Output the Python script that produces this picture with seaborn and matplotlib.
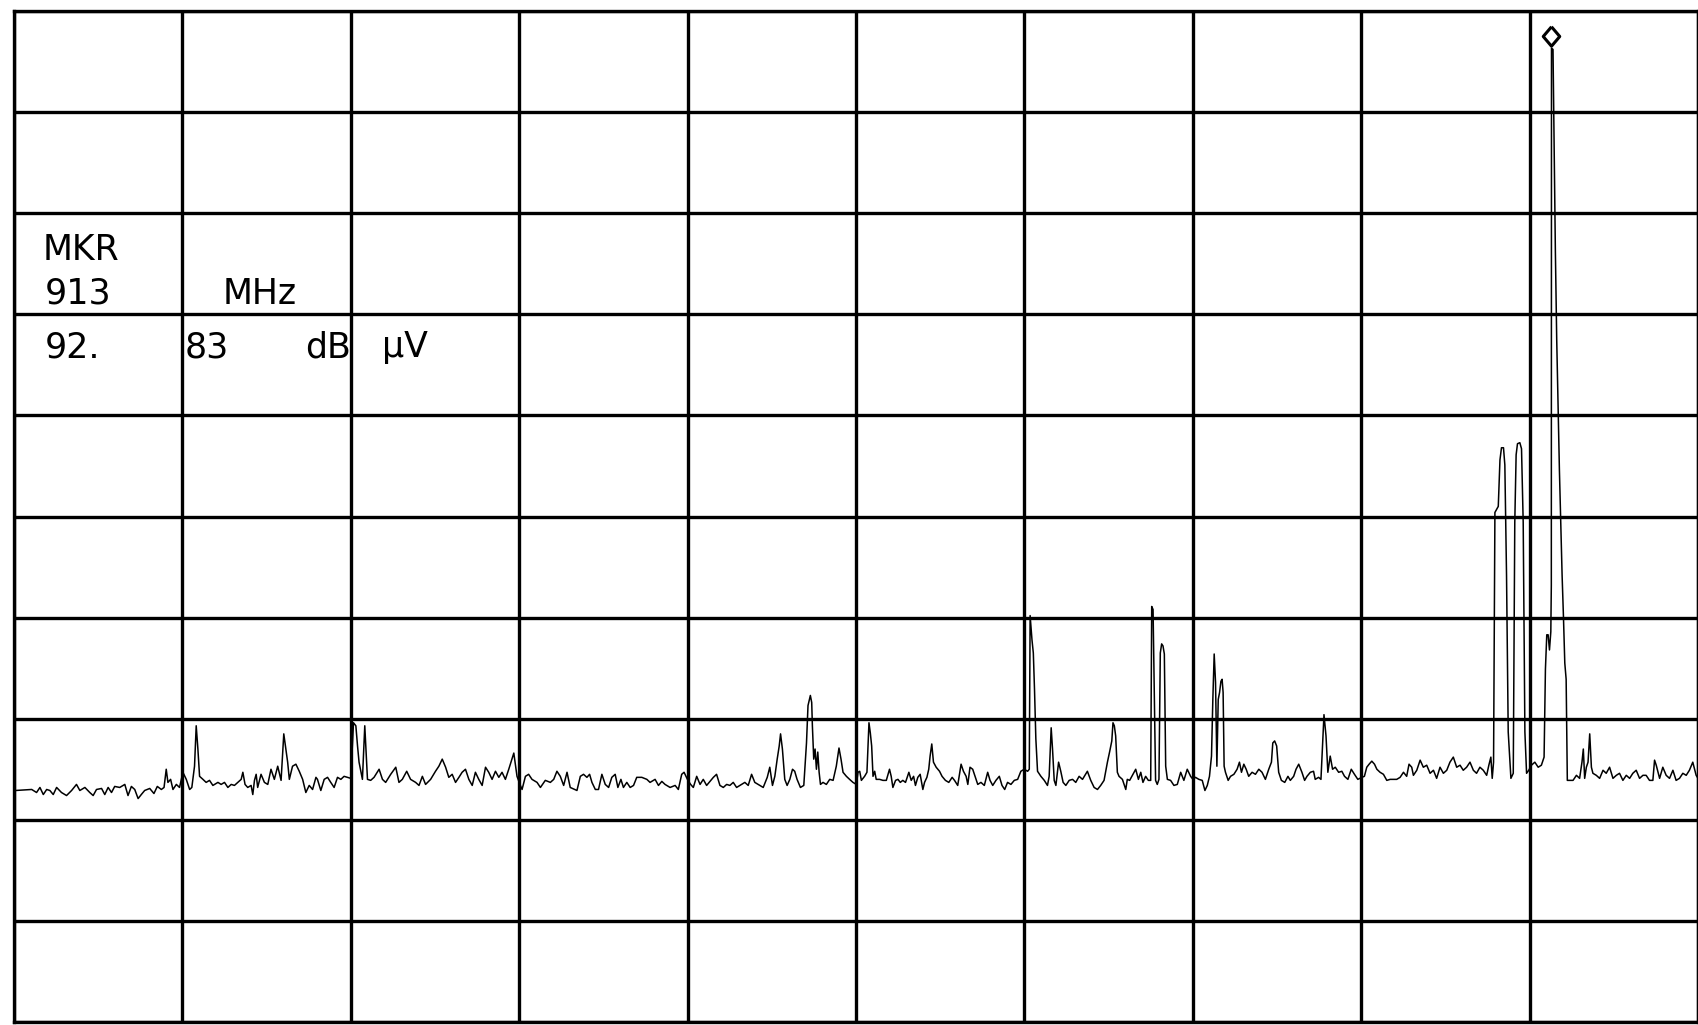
import numpy as np
import pandas as pd
import matplotlib
matplotlib.use("Agg")
import matplotlib.pyplot as plt
import matplotlib.transforms as mtransforms
import seaborn as sns

# ---------------- data (read from the plotter output) ----------------
# frequency sweep 0 .. 1000 MHz, level in dBuV, reference level 96.5 dBuV, 10 dB/div
freq_mhz = [
    1, 10.5, 13.4, 15.4, 17.4, 19.4, 21.3, 23.3, 25.3, 28.2, 31.2, 34.2, 37.1, 39.1, 42.1, 45.0, 47.0, 49.0,
    52.0, 53.9, 55.9, 57.9, 59.8, 62.8, 65.8, 67.7, 69.7, 71.7, 73.7, 75.6, 77.6, 80.6, 83.1, 85.1, 87.5, 89.1,
    90.4, 91.4, 93.0, 94.4, 96.4, 98.3, 100.3, 102.3, 104.3, 105.6, 106.2, 107.2, 108.2, 109.2, 110.2, 112.2,
    114.1, 116.1, 118.1, 121.1, 123.0, 125.0, 127.0, 129.0, 130.9, 132.9, 134.9, 135.9, 137.2, 138.8, 140.8,
    141.8, 142.8, 143.8, 144.7, 146.7, 148.7, 150.7, 152.6, 154.6, 156.6, 158.6, 160.2,
    162.5, 163.5, 165.4, 167.4, 169.4, 171.4, 173.3, 175.3, 177.3, 179.3, 180.2, 182.2, 184.2, 186.2, 188.1,
    190.1, 192.1, 194.1, 196.0, 198.0, 200.0, 201.6, 203.0, 204.0, 204.9, 206.9, 208.3, 209.9, 211.8, 213.8,
    216.8, 218.8, 220.7, 223.7, 226.7, 228.6, 230.6, 233.2, 235.5, 238.5, 240.5, 242.5, 244.4, 247.4, 250.3,
    252.3, 254.3, 256.3, 258.2, 260.2, 262.2, 264.2, 266.1, 268.1, 270.1, 272.1, 274.0, 276.0, 278.0, 280.0,
    281.9, 283.9, 285.9, 287.9, 289.8, 291.8, 293.8, 296.8, 298.7, 300.7, 301.7, 303.7, 305.6, 307.6, 310.6,
    312.6, 315.5, 318.5, 320.5, 322.4, 324.4, 326.4, 328.4, 330.3,
    334.3, 336.3, 338.2, 340.2, 341.8, 343.2, 345.2, 347.1, 349.1, 351.1, 353.1, 355.0, 357.0, 358.6, 360.4,
    361.9, 363.9, 365.9, 367.9, 369.8, 372.8, 375.8, 377.7, 380.7, 382.7, 384.7, 386.6, 389.6, 392.6, 394.5,
    396.5, 397.9, 399.9, 401.8, 403.4, 405.4, 407.4, 409.3, 411.3, 413.3, 415.3, 417.2, 419.2, 421.2, 423.2,
    425.1, 427.1, 429.1, 432.0, 434.0, 436.0, 438.0, 439.9, 442.9, 444.9, 447.3, 448.8, 450.4, 451.8, 453.2,
    454.4, 455.2, 456.3, 457.7, 459.1, 460.7, 462.3, 463.6, 465.0, 467.0, 469.0, 470.6, 471.5, 472.9, 473.7,
    474.1, 474.9, 475.7, 476.5, 477.3, 478.1, 478.9, 480.4, 482.4, 484.4, 486.4, 488.3, 489.9, 491.1, 492.3,
    494.3, 496.2,
    498.2, 500.2, 501.2, 502.2, 503.2, 505.1, 506.5, 507.7, 508.5, 509.3, 510.1, 511.1, 512.0, 514.0, 516.0,
    518.0, 519.9, 520.9, 521.9, 523.5, 524.9, 526.3, 527.8, 529.4, 531.4, 532.8, 534.2, 535.3, 536.7, 538.1,
    539.7, 540.7, 542.1, 543.2, 544.0, 545.0, 546.0, 547.6, 549.6, 551.1, 553.1, 555.1, 557.1, 558.5, 560.4,
    562.4, 563.8, 565.4, 566.4, 567.7, 569.3, 570.9, 572.3, 574.2, 576.2, 578.2, 579.6, 581.2, 583.1, 585.1,
    586.7, 588.3, 590.0, 592.0, 594.0, 596.0, 597.9, 599.9, 601.9, 602.9, 603.4, 604.5, 605.3, 606.0, 606.8,
    607.8, 609.8, 611.8, 613.7, 614.7, 615.9, 616.7, 617.7, 618.7, 620.3, 621.6, 623.0, 624.6, 626.6, 628.6,
    630.5, 632.5, 634.5, 637.4, 639.4, 641.4, 643.4, 645.3, 647.3, 649.3, 650.7, 651.9, 652.6, 653.4, 654.2,
    655.2, 656.2, 658.2, 660.2, 661.1, 662.5,
    666.1, 667.7, 669.1, 670.4, 672.0, 673.6, 675.0, 675.6, 676.4, 677.2, 677.9, 678.9, 679.9, 680.7, 681.5,
    682.3, 683.1, 683.9, 684.9, 686.8, 688.8, 690.8, 692.8, 694.7, 696.7, 698.7, 700.1, 701.6, 703.6, 705.6,
    707.2, 708.6, 709.9, 711.1, 711.9, 712.7, 713.5, 714.3, 715.1, 715.9, 716.7, 717.4, 718.0, 718.6, 719.4,
    721.0, 722.4, 724.4, 726.3, 727.7, 728.9, 730.3, 731.7, 733.2, 735.2, 737.2, 739.2, 741.1, 743.1, 745.1,
    746.7, 747.5, 748.6, 749.8, 751.0, 752.6, 754.6, 756.5, 757.9, 759.9, 761.3, 762.9, 764.8, 766.4, 767.8,
    769.8, 771.7, 772.7, 774.7, 776.1, 777.1, 777.9, 779.1, 780.2, 781.6, 783.0, 784.6, 786.6, 788.5, 790.1,
    792.1, 794.1, 796.0, 798.0, 800.4, 801.9, 803.3, 804.7, 806.3, 807.9, 809.3, 811.2, 813.2, 815.2, 817.2,
    819.1, 821.1, 823.1, 825.1, 827.0, 828.4, 830.0,
    831.0, 833.0, 835.0, 836.9, 838.9, 840.9, 842.9, 844.8, 846.8, 848.8, 850.8, 852.7, 854.7, 856.7, 858.7,
    860.6, 862.6, 864.6, 866.6, 868.5, 870.5, 872.5, 874.5, 875.8, 877.0, 877.8, 878.6, 879.4, 880.4, 881.4,
    882.4, 883.3, 884.5, 885.3, 886.3, 887.3, 888.9, 890.3, 891.2, 892.0, 892.8, 894.2, 895.2, 896.2, 897.2,
    898.2, 899.5, 901.1, 903.1, 905.1, 907.0, 908.6, 909.4, 910.2, 911.0, 911.8, 912.6, 912.9, 913.0, 913.9,
    915.3, 916.1, 916.9, 917.7, 918.5, 919.3, 920.1, 920.9, 921.7, 922.4, 923.8, 925.8, 927.8, 929.7, 931.1,
    931.9, 932.7, 933.7, 934.7, 935.7, 936.7, 937.6, 939.6, 941.6, 943.6, 945.5, 947.5, 949.5, 951.5, 953.4,
    955.4, 957.4, 959.4, 961.3, 963.3, 965.3, 967.3, 969.2, 971.2, 973.2, 974.2, 975.2, 977.2, 979.1, 981.1,
    983.1, 985.1, 987.0, 989.0, 991.0, 993.0, 994.9, 996.9, 998.9, 1000.0,
]

level_dbuv = [
    19.4, 19.5, 19.2, 19.7, 19.0, 19.5, 19.4, 19.0, 19.7, 19.2, 18.9, 19.4, 20.0, 19.4, 19.7, 19.2, 18.9, 19.5,
    19.6, 19.0, 19.7, 19.2, 19.8, 19.7, 20.0, 18.9, 19.8, 19.5, 18.6, 19.0, 19.4, 19.6, 19.1, 19.8, 19.5, 19.7,
    21.5, 20.2, 20.5, 19.5, 20.0, 19.7, 21.2, 20.5, 19.5, 19.7, 20.5, 21.8, 25.8, 23.5, 20.8, 20.5,
    20.2, 20.4, 19.9, 20.2, 20.0, 20.2, 19.7, 20.0, 19.9, 20.2, 20.5, 21.2, 20.0, 19.7, 19.9,
    19.0, 20.4, 21.0, 19.7, 21.0, 20.2, 20.0, 21.5, 20.5, 21.8, 20.4, 25.0,
    22.2, 20.5, 21.8, 22.0, 21.3, 20.5, 19.2, 19.9, 19.5, 20.7, 20.5, 19.4, 20.5, 20.7, 20.2,
    19.7, 20.7, 20.5, 20.8, 20.7, 20.6, 26.1, 25.8, 23.8, 22.2, 20.5, 25.8, 20.5, 20.4, 20.7,
    21.5, 20.5, 20.2, 21.0, 21.7, 20.2, 20.5, 21.3, 20.5, 20.2, 19.9, 20.8, 20.0, 20.5, 21.3,
    21.8, 22.5, 21.7, 20.7, 21.0, 20.2, 20.7, 21.2, 21.5, 20.5, 19.9, 21.2, 20.5, 19.9, 21.7,
    21.2, 20.5, 21.3, 20.7, 21.2, 20.5, 21.5, 23.1, 20.8, 19.9, 19.5, 20.8, 21.0, 20.5, 20.2,
    19.7, 20.4, 20.2, 20.5, 21.3, 20.8, 19.9, 21.2, 19.7,
    19.4, 20.8, 21.0, 20.7, 21.0, 20.2, 19.5, 19.5, 21.0, 20.0, 19.7, 20.7, 21.0, 19.7, 20.5,
    19.7, 20.2, 19.7, 19.9, 20.7, 20.7, 20.5, 20.2, 20.5, 19.9, 20.3, 20.0, 19.7, 19.9, 19.5,
    21.0, 21.2, 20.5, 20.0, 19.7, 20.8, 20.0, 20.5, 19.9, 20.3, 20.7, 21.0, 19.9, 19.7, 20.0,
    19.9, 20.2, 19.7, 20.0, 20.2, 19.9, 21.0, 20.2, 19.9, 19.7, 20.7, 21.7, 19.9, 20.8, 22.5,
    23.8, 25.0, 23.5, 20.5, 19.9, 20.5, 21.5, 21.3, 20.5, 19.7, 19.9, 24.1, 27.8, 28.8, 28.1,
    25.8, 22.5, 23.5, 21.5, 23.2, 21.2, 20.0, 20.2, 20.0, 20.5, 20.4, 21.8, 23.6, 22.5, 21.2,
    20.8, 20.5,
    20.2, 20.0, 21.2, 21.3, 20.4, 20.8, 21.2, 26.1, 25.1, 23.8, 20.8, 21.3, 20.5, 20.5, 20.4,
    20.4, 21.5, 20.8, 19.7, 20.4, 20.5, 20.2, 20.4, 20.2, 21.2, 20.4, 20.8, 19.9, 20.7, 21.0,
    19.5, 20.2, 20.7, 21.5, 22.8, 24.0, 22.2, 21.7, 21.3, 20.8, 20.4, 20.2, 20.7, 20.4, 19.9,
    22.0, 21.3, 20.8, 20.0, 21.7, 21.5, 20.7, 20.0, 20.2, 19.9, 21.2, 20.4, 19.9, 20.4, 20.8,
    19.9, 19.5, 20.2, 20.0, 20.4, 20.5, 21.3, 21.5, 21.3, 21.5, 36.7, 34.3, 33.0, 29.4, 24.5,
    21.3, 20.8, 20.4, 19.9, 20.8, 25.6, 23.5, 20.4, 19.9, 22.2, 21.3, 20.2, 19.9, 20.4, 20.5,
    20.2, 20.8, 20.5, 21.3, 20.4, 19.7, 19.5, 19.9, 20.4, 22.2, 23.3, 24.3, 26.1, 25.8, 24.8,
    21.2, 20.8, 20.5, 19.5, 20.5, 20.4,
    21.5, 20.5, 21.2, 20.2, 20.8, 20.4, 20.4, 37.6, 37.3, 28.4, 20.4, 20.0, 20.5, 33.0, 33.9,
    33.7, 32.9, 21.8, 20.5, 20.4, 19.9, 20.0, 21.2, 20.4, 21.5, 20.8, 20.5, 20.7, 20.5, 20.4,
    19.4, 19.9, 20.8, 22.8, 28.4, 32.9, 30.1, 21.8, 28.4, 29.1, 30.2, 30.4, 29.1, 21.8, 21.2,
    20.4, 20.8, 21.0, 21.5, 22.2, 21.2, 22.0, 21.5, 20.8, 21.2, 21.0, 21.5, 21.2, 20.5, 21.5,
    22.2, 24.1, 24.3, 23.8, 21.2, 20.4, 20.2, 20.8, 20.4, 20.8, 21.5, 22.0, 21.2, 20.4, 20.8,
    21.2, 21.3, 20.5, 20.7, 20.5, 24.1, 26.9, 24.8, 21.2, 22.8, 21.5, 21.7, 21.2, 21.3, 20.8,
    20.5, 21.5, 21.0, 20.5, 20.7, 20.8, 21.7, 22.0, 22.3, 22.0, 21.5, 21.2, 21.0, 20.4, 20.5,
    20.5, 20.5, 20.7, 21.2, 20.8, 22.0, 21.7,
    20.9, 21.4, 22.4, 21.7, 21.9, 21.1, 21.4, 20.6, 21.7, 21.1, 21.4, 22.2, 22.7, 21.7, 21.9,
    21.4, 21.7, 22.2, 21.4, 21.1, 21.7, 21.4, 20.9, 21.9, 22.7, 20.6, 22.2, 46.9, 47.2, 47.5,
    52.1, 53.3, 53.3, 51.6, 40.7, 25.2, 20.6, 21.1, 45.9, 52.6, 53.7, 53.8, 53.2, 45.9, 25.2,
    21.1, 21.4, 21.9, 22.2, 21.7, 21.9, 22.7, 31.4, 34.8, 34.8, 33.3, 35.1, 39.7, 92.83, 92.7,
    72.8, 64.0, 57.3, 51.1, 45.9, 40.7, 36.6, 32.0, 30.4, 20.4, 20.4, 20.4, 20.9, 20.6, 22.2,
    23.5, 20.6, 21.7, 22.2, 25.0, 21.7, 21.1, 20.9, 20.6, 21.4, 21.1, 21.7, 20.6, 20.9, 21.1,
    20.4, 20.9, 20.6, 21.1, 21.4, 20.6, 20.9, 20.9, 20.4, 20.4, 22.4, 21.9, 20.6, 21.7, 20.9,
    20.6, 21.4, 20.4, 20.6, 21.1, 20.9, 21.4, 22.2, 20.9, 20.6,
]

marker_freq_mhz = 913.0
marker_level_dbuv = 92.83
annotation_words = ["MKR", "913", "MHz", "92.", "83", "dB", "\u00b5V"]

# ---------------- figure ----------------
sns.set_style("white")
plt.rcParams["font.family"] = ["DejaVu Sans"]

W, H = 1699, 1025
fig = plt.figure(figsize=(W / 100, H / 100), dpi=100, facecolor="white")
ax = fig.add_axes([14 / W, 3 / H, 1684 / W, 1011 / H])

df = pd.DataFrame({"freq": freq_mhz, "level": level_dbuv})
sns.lineplot(data=df, x="freq", y="level", ax=ax, estimator=None, sort=False,
             color="black", linewidth=1.1, zorder=3)

ax.set_xlim(0, 1000)
ax.set_ylim(-3.5, 96.5)
ax.set_xticks(np.arange(0, 1001, 100))
ax.set_yticks(np.arange(-3.5, 97, 10))
ax.tick_params(length=0, labelbottom=False, labelleft=False)
ax.grid(True, color="black", linewidth=2.4)
ax.set_axisbelow(True)
ax.set_xlabel("")
ax.set_ylabel("")
for sp in ax.spines.values():
    sp.set_visible(True)
    sp.set_color("black")
    sp.set_linewidth(2.4)

# marker diamond above the peak
diamond = [(0, 1), (0.85, 0), (0, -1), (-0.85, 0), (0, 1)]
trans = mtransforms.offset_copy(ax.transData, fig=fig, x=0, y=12, units="dots")
ax.plot([marker_freq_mhz], [marker_level_dbuv], marker=diamond, markersize=14,
        markerfacecolor="white", markeredgecolor="black", markeredgewidth=2.2,
        linestyle="none", transform=trans, zorder=4)

# marker readout text
def px_to_axes(xp, yp):
    return (xp - 14) / 1684, 1 - (yp - 11) / 1011

positions = [(43, 260), (45, 304), (223, 304), (45, 357), (185, 357), (305, 357), (382, 357)]
for word, (xp, yp) in zip(annotation_words, positions):
    xa, ya = px_to_axes(xp, yp)
    ax.text(xa, ya, word, transform=ax.transAxes, fontsize=25, color="black",
            ha="left", va="baseline", zorder=5)

fig.savefig("out.png", dpi=100, facecolor="white")
